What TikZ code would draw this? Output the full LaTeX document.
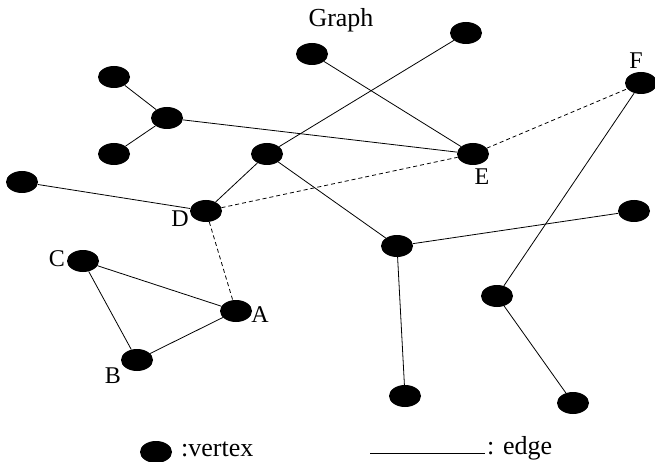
\documentclass[tikz,border=0pt]{standalone}
\usepackage{fontspec}
\setmainfont{Liberation Serif}
\usetikzlibrary{shapes.geometric}
\begin{document}
\begin{tikzpicture}[x=1pt,y=-1pt,
  vert/.style={ellipse,fill=black,minimum width=32pt,minimum height=22pt,inner sep=0pt},
  edge/.style={draw=black,line width=0.8pt},
  link/.style={draw=black,line width=0.8pt,dash pattern=on 4pt off 3pt},
  lbl/.style={font=\fontsize{24}{27}\selectfont,inner sep=0pt},
  big/.style={font=\fontsize{26}{29}\selectfont,inner sep=0pt}]
\useasboundingbox (0,0) rectangle (655,462);
% vertices
\node[vert] (t1) at (114,77) {};
\node[vert] (hub) at (167,118) {};
\node[vert] (t2) at (114,154) {};
\node[vert] (w) at (22,182) {};
\node[vert] (m) at (267,154) {};
\node[vert] (D) at (206,211) {};
\node[vert] (n1) at (312,54) {};
\node[vert] (n2) at (466,33) {};
\node[vert] (F) at (641,83) {};
\node[vert] (E) at (473,154) {};
\node[vert] (r1) at (634,211) {};
\node[vert] (s) at (397,246) {};
\node[vert] (q) at (497,296) {};
\node[vert] (s1) at (405,396) {};
\node[vert] (q1) at (573,403) {};
\node[vert] (C) at (83,261) {};
\node[vert] (A) at (236,311) {};
\node[vert] (B) at (137,360) {};
% labels
\node[big] at (341,20) {Graph};
\node[lbl] at (636,61) {F};
\node[lbl] at (482,177) {E};
\node[lbl] at (180,219) {D};
\node[lbl] at (57,259) {C};
\node[lbl] at (260,315) {A};
\node[lbl] at (113,376) {B};
% edges
\draw[edge] (t1) -- (hub);
\draw[edge] (t2) -- (hub);
\draw[edge] (hub) -- (E);
\draw[edge] (n1) -- (E);
\draw[edge] (n2) -- (m);
\draw[edge] (m) -- (D);
\draw[edge] (m) -- (s);
\draw[edge] (s) -- (r1);
\draw[edge] (s) -- (s1);
\draw[edge] (F) -- (q);
\draw[edge] (q) -- (q1);
\draw[edge] (w) -- (D);
\draw[edge] (C) -- (A);
\draw[edge] (C) -- (B);
\draw[edge] (B) -- (A);
\draw[link] (D) -- (E);
\draw[link] (E) -- (F);
\draw[link] (D) -- (A);
% legend
\node[vert] (lv) at (156,452) {};
\node[big,anchor=west] (lvt) at (181,449) {:vertex};
\coordinate (le1) at (370,453);
\coordinate (le2) at (485,453);
\draw[edge] (le1) -- (le2);
\node[big,anchor=west] (let) at (487,448) {: edge};
\end{tikzpicture}
\end{document}
